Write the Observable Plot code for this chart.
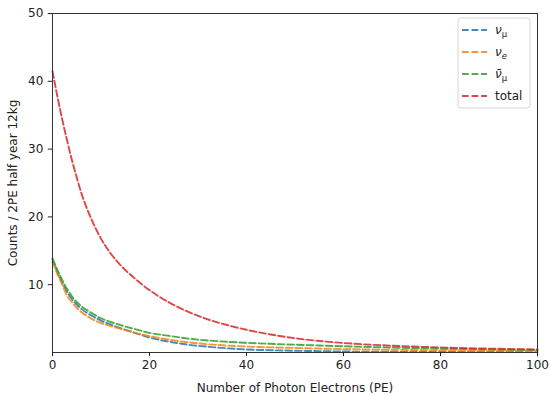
<!DOCTYPE html>
<html><head><meta charset="utf-8">
<script src="https://cdn.jsdelivr.net/npm/d3@7"></script>
<script src="https://cdn.jsdelivr.net/npm/@observablehq/plot@0.6"></script>
<style>body{margin:0;background:#fff}</style>
</head><body><div id="chart"></div>
<script>
// Number of photon electrons (PE)
const pe = [0,1,2,3,4,5,6,8,10,12,14,17,20,24,28,32,36,40,45,50,55,60,70,80,90,100];
const nuMu    = [13.7,11.9,10.35,8.95,7.9,7.05,6.4,5.45,4.7,4.1,3.6,2.9,2.2,1.6,1.15,0.85,0.62,0.45,0.33,0.26,0.2,0.15,0.1,0.08,0.07,0.06];
const nuE     = [13.4,11.6,10.0,8.4,7.45,6.6,5.95,5.0,4.35,3.9,3.5,2.9,2.4,1.9,1.5,1.22,1.02,0.88,0.76,0.67,0.58,0.5,0.4,0.33,0.28,0.24];
const nuMuBar = [13.9,12.2,10.7,9.35,8.3,7.45,6.8,5.85,5.05,4.5,4.05,3.45,2.9,2.45,2.05,1.78,1.58,1.43,1.28,1.15,1.03,0.92,0.73,0.58,0.46,0.36];
const total   = [41.5,37.8,34.4,31.3,28.4,25.8,23.4,19.7,16.8,14.6,12.9,10.9,9.2,7.4,6.0,4.9,4.05,3.35,2.65,2.1,1.7,1.4,1.0,0.75,0.57,0.45];
const seriesNames = ["nuMu","nuE","nuMuBar","total"];
const seriesColors = ["#1f77b4","#ff7f0e","#2ca02c","#d62728"];
const xTicks = [0,20,40,60,80,100];
const yTicks = [10,20,30,40,50];

const valuesBySeries = {nuMu, nuE, nuMuBar, total};
const rows = seriesNames.flatMap(s => pe.map((x, i) => ({series: s, pe: x, v: valuesBySeries[s][i]})));

const plot = Plot.plot({
  width: 550, height: 395,
  marginLeft: 52, marginRight: 13, marginTop: 13, marginBottom: 43,
  style: {fontFamily: "DejaVu Sans", fontSize: "12px", color: "#222", background: "#fff"},
  x: {domain: [0, 100]},
  y: {domain: [0, 50]},
  color: {domain: seriesNames, range: seriesColors},
  marks: [
    Plot.line(rows, {x: "pe", y: "v", z: "series", stroke: "series", strokeWidth: 1.9,
      strokeDasharray: "6.7,2.9", strokeOpacity: 0.85, curve: "monotone-x"}),
    Plot.frame({stroke: "#333", strokeWidth: 1}),
    Plot.axisX({ticks: xTicks, tickSize: 4.2, tickPadding: 4, fontSize: 12, label: "Number of Photon Electrons (PE)",
      labelAnchor: "center", labelArrow: "none", labelOffset: 39}),
    Plot.axisY({ticks: yTicks, tickSize: 4.2, tickPadding: 5, fontSize: 12, label: "Counts / 2PE half year 12kg",
      labelAnchor: "center", labelArrow: "none", labelOffset: 44})
  ]
});
document.getElementById("chart").appendChild(plot);

// legend
const svg = d3.select(plot);
const lg = svg.append("g").attr("font-family", "DejaVu Sans").attr("font-size", "12px")
  .attr("fill", "#222").attr("text-anchor", "start");
lg.append("rect").attr("x", 458).attr("y", 18).attr("width", 72).attr("height", 90)
  .attr("rx", 3).attr("fill", "#fff").attr("fill-opacity", 0.8).attr("stroke", "#d6d6d6");
const labels = [
  [{t: "ν", it: true}, {t: "μ", sub: true}],
  [{t: "ν", it: true}, {t: "e", sub: true, it: true}],
  [{t: "ν̄", it: true}, {t: "μ", sub: true}],
  [{t: "total"}]
];
const rowY = [30, 52, 74, 96];
seriesNames.forEach((s, i) => {
  lg.append("line").attr("x1", 462).attr("x2", 487).attr("y1", rowY[i]).attr("y2", rowY[i])
    .attr("stroke", seriesColors[i]).attr("stroke-width", 1.9).attr("stroke-opacity", 0.85)
    .attr("stroke-dasharray", "6.7,2.9");
  const tx = lg.append("text").attr("x", 495).attr("y", rowY[i] + 4);
  labels[i].forEach(p => {
    const ts = tx.append("tspan").text(p.t);
    if (p.it) ts.attr("font-style", "italic");
    if (p.sub) ts.attr("font-size", "8.5px").attr("dy", 3);
  });
});
</script>
</body></html>
